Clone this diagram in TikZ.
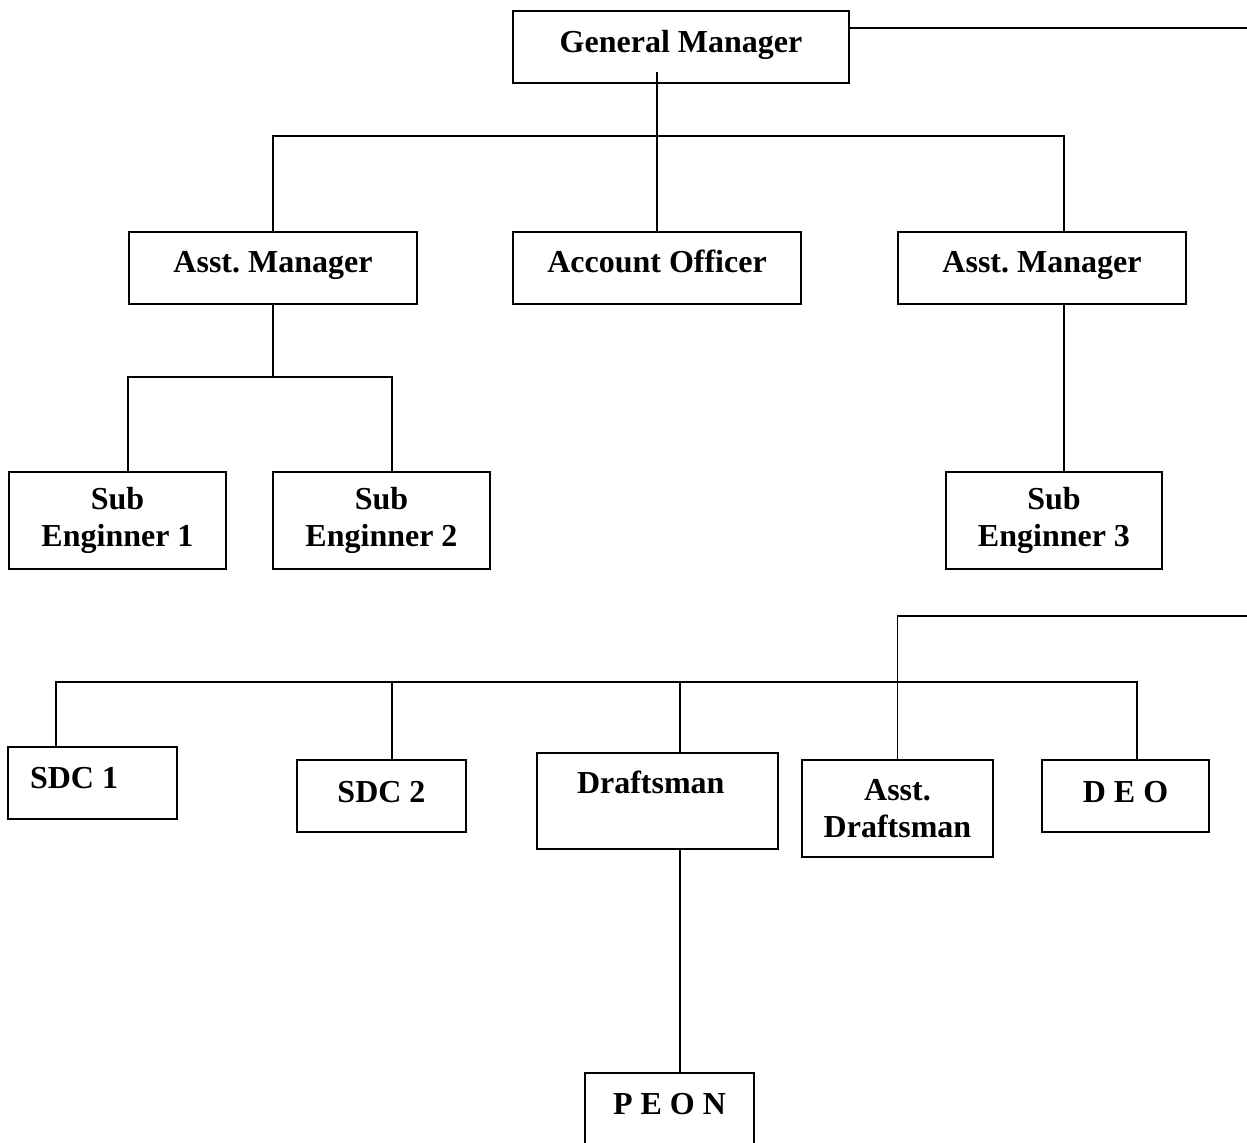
\documentclass[tikz,border=0pt]{standalone}
\usepackage{fontspec}
\setmainfont{Liberation Serif}

\begin{document}
\begin{tikzpicture}[x=0.5pt, y=-0.5pt,
  box/.style={draw, line width=1pt, inner xsep=4pt, inner ysep=0pt, align=center, font=\bfseries\fontsize{16}{18.4}\selectfont\frenchspacing},
  link/.style={line width=0.75pt}]
\useasboundingbox (0,0) rectangle (1247,1143);
\node[box, minimum width=168pt, text height=21pt, text depth=15pt] (gm) at (681,47){General Manager};
\node[box, minimum width=144pt, text height=20.5pt, text depth=15.5pt] (am1) at (273,268){Asst. Manager};
\node[box, minimum width=144pt, text height=20.5pt, text depth=15.5pt] (ao) at (657,268){Account Officer};
\node[box, minimum width=144pt, text height=20.5pt, text depth=15.5pt] (am2) at (1042,268){Asst. Manager};
\node[box, minimum width=108.5pt, minimum height=48.5pt] (se1) at (117.5,520.5){Sub\\Enginner 1};
\node[box, minimum width=108.5pt, minimum height=48.5pt] (se2) at (381.5,520.5){Sub\\Enginner 2};
\node[box, minimum width=108pt, minimum height=48.5pt] (se3) at (1054,520.5){Sub\\Enginner 3};
\node[box, align=flush left, inner xsep=11pt, text width=62.5pt, text height=20.5pt, text depth=15.5pt] (sdc1) at (92.5,783){SDC 1};
\node[box, minimum width=84.5pt, text height=21pt, text depth=15pt] (sdc2) at (381.5,796){SDC 2};
\node[box, align=flush left, inner xsep=20pt, text width=80.5pt, text height=20pt, text depth=28pt] (dm) at (657.5,801){Draftsman};
\node[box, minimum width=95.5pt, minimum height=48.5pt] (ad) at (897.5,808.5){Asst.\\Draftsman};
\node[box, minimum width=83.5pt, text height=21pt, text depth=15pt] (deo) at (1125.5,796){D E O};
\node[box, minimum width=84.5pt, text height=20.5pt, text depth=19.5pt] (peon) at (669.5,1113){P E O N};
\coordinate (gmout) at (1247,28);
\coordinate (lowout) at (1247,616);
\draw[line width=1pt](gmout -| gm.east) -- (gmout);
\draw[link]([yshift=6pt]gm.south -| ao.north) -- (ao.north);
\draw[link](am1.north) -- (273,136) -- (1064,136) -- (am2.north -| 1064,0);
\draw[link](am1.south) -- (273,377);
\draw[link](se1.north -| 128,0) -- (128,377) -- (392,377) -- (se2.north -| 392,0);
\draw[link](am2.south -| 1064,0) -- (se3.north -| 1064,0);
\draw[link](lowout) -| (ad.north);
\draw[link](sdc1.north -| 56,0) -- (56,682) -| (deo.north -| 1137,0);
\draw[link](392,682) -- (sdc2.north -| 392,0);
\draw[link](680,682) -- (dm.north -| 680,0);
\draw[link](dm.south -| 680,0) -- (peon.north -| 680,0);
\end{tikzpicture}
\end{document}
